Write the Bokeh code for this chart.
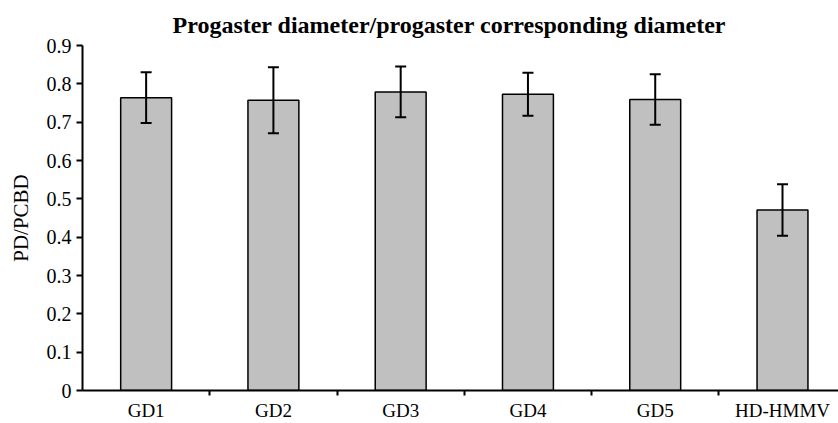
from bokeh.plotting import figure
from bokeh.models import ColumnDataSource, Whisker, TeeHead, FixedTicker, Range1d
from bokeh.embed import file_html
from bokeh.resources import INLINE

categories = ["GD1", "GD2", "GD3", "GD4", "GD5", "HD-HMMV"]
means = [0.764, 0.757, 0.779, 0.773, 0.759, 0.471]
errors = [0.066, 0.086, 0.066, 0.056, 0.066, 0.067]
y_ticks = [0, 0.1, 0.2, 0.3, 0.4, 0.5, 0.6, 0.7, 0.8, 0.9]
y_tick_labels = ["0", "0.1", "0.2", "0.3", "0.4", "0.5", "0.6", "0.7", "0.8", "0.9"]

x = [i + 0.5 for i in range(len(categories))]
boundaries = [i for i in range(1, len(categories))]

src = ColumnDataSource(dict(
    x=x, top=means,
    upper=[m + e for m, e in zip(means, errors)],
    lower=[m - e for m, e in zip(means, errors)],
))

FONT = "Liberation Serif"

p = figure(width=838, height=423, output_backend="svg", toolbar_location=None,
           x_range=Range1d(0, 5.94), y_range=Range1d(0, 0.9),
           min_border_left=82, min_border_right=0, min_border_top=45,
           min_border_bottom=33)

p.title.text = "Progaster diameter/progaster corresponding diameter"
p.title.align = "left"
p.title.offset = 90
p.title.standoff = 16
p.title.text_font = FONT
p.title.text_font_size = "24px"
p.title.text_font_style = "bold"
p.title.text_color = "black"

p.vbar(x="x", top="top", bottom=0, width=0.4, source=src,
       fill_color="#c0c0c0", line_color="black", line_width=1.5)

w = Whisker(source=src, base="x", upper="upper", lower="lower",
            line_color="black", line_width=2, level="overlay",
            upper_head=TeeHead(size=11, line_color="black", line_width=2),
            lower_head=TeeHead(size=11, line_color="black", line_width=2))
p.add_layout(w)

p.xgrid.visible = False
p.ygrid.visible = False
p.outline_line_color = None

xa = p.xaxis[0]
xa.ticker = FixedTicker(ticks=x, minor_ticks=boundaries)
xa.major_label_overrides = {xi: c for xi, c in zip(x, categories)}
xa.major_tick_out = 0
xa.major_tick_in = 0
xa.minor_tick_out = 5
xa.minor_tick_in = 0
xa.minor_tick_line_color = "black"
xa.minor_tick_line_width = 2
xa.axis_line_color = "black"
xa.axis_line_width = 2
xa.major_label_text_font = FONT
xa.major_label_text_font_size = "19px"
xa.major_label_text_color = "black"
xa.major_label_standoff = 4

ya = p.yaxis[0]
ya.ticker = FixedTicker(ticks=y_ticks)
ya.major_label_overrides = {t: l for t, l in zip(y_ticks, y_tick_labels)}
ya.major_tick_out = 6
ya.major_tick_in = 0
ya.minor_tick_out = 0
ya.minor_tick_in = 0
ya.major_tick_line_color = "black"
ya.major_tick_line_width = 2
ya.axis_line_color = "black"
ya.axis_line_width = 2
ya.major_label_text_font = FONT
ya.major_label_text_font_size = "20px"
ya.major_label_text_color = "black"
ya.major_label_standoff = 5
ya.axis_label = "PD/PCBD"
ya.axis_label_text_font = FONT
ya.axis_label_text_font_size = "21px"
ya.axis_label_text_font_style = "normal"
ya.axis_label_text_color = "black"
ya.axis_label_standoff = 11

open("out.html", "w").write(file_html(p, INLINE))
